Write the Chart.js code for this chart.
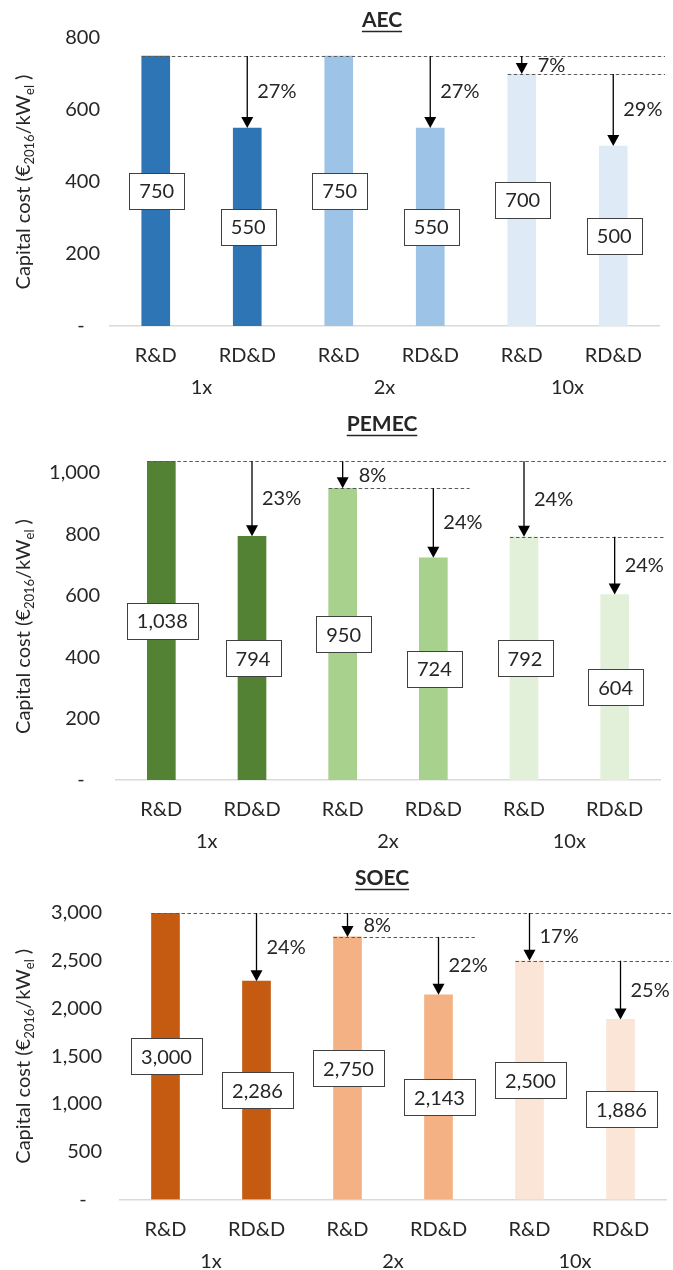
<!DOCTYPE html>
<html>
<head>
<meta charset="utf-8">
<script src="https://cdn.jsdelivr.net/npm/chart.js@4.4.1/dist/chart.umd.min.js"></script>
<style>
  html, body { margin: 0; padding: 0; background: #fff; }
  #wrap { position: relative; width: 673px; height: 1270px; overflow: hidden; }
  canvas { position: absolute; left: 0; }
</style>
</head>
<body>
<div id="wrap">
  <canvas id="aec" width="673" height="400" style="top:0px"></canvas>
  <canvas id="pemec" width="673" height="460" style="top:400px"></canvas>
  <canvas id="soec" width="673" height="410" style="top:860px"></canvas>
</div>
<script>
// ---- data ----
const stages = ["R&D", "RD&D", "R&D", "RD&D", "R&D", "RD&D"];
const scaleUps = ["1x", "2x", "10x"];

const aecCost = [750, 550, 750, 550, 700, 500];
const aecFrom = [null, 750, null, 750, 750, 700];   // arrow starts at this cost
const aecCut = [null, "27%", null, "27%", "7%", "29%"];
const aecRefValue = [750, 700];                     // dashed reference lines
const aecRefStart = [0, 4];
const aecRefEnd = [null, null];

const pemecCost = [1038, 794, 950, 724, 792, 604];
const pemecFrom = [null, 1038, 1038, 950, 1038, 792];
const pemecCut = [null, "23%", "8%", "24%", "24%", "24%"];
const pemecRefValue = [1038, 950, 792];
const pemecRefStart = [0, 2, 4];
const pemecRefEnd = [null, 3, null];

const soecCost = [3000, 2286, 2750, 2143, 2500, 1886];
const soecFrom = [null, 3000, 3000, 2750, 3000, 2500];
const soecCut = [null, "24%", "8%", "22%", "17%", "25%"];
const soecRefValue = [3000, 2750, 2500];
const soecRefStart = [0, 2, 4];
const soecRefEnd = [null, 3, null];

// ---- look ----
const INK = "#262626";
const FONT = "Lato";

function fmt(v) { return v.toLocaleString("en-US"); }

// rotated y title with subscripts
function drawAxisTitle(ctx, cx, cy) {
  const parts = [["Capital cost (€", 20, 0], ["2016", 13, 4], ["/kW", 20, 0], ["el", 13, 4], [" )", 20, 0]];
  ctx.save();
  ctx.translate(cx, cy);
  ctx.rotate(-Math.PI / 2);
  ctx.fillStyle = INK;
  ctx.textAlign = "left";
  ctx.textBaseline = "alphabetic";
  let total = 0;
  parts.forEach((p) => { ctx.font = p[1] + "px " + FONT; total += ctx.measureText(p[0]).width; });
  let x = -total / 2;
  parts.forEach((p) => {
    ctx.font = p[1] + "px " + FONT;
    ctx.fillText(p[0], x, 7 + p[2]);
    x += ctx.measureText(p[0]).width;
  });
  ctx.restore();
}

function drawNotes(chart, cfg) {
  const { ctx, chartArea: a } = chart;
  const xs = chart.scales.x, ys = chart.scales.y;
  const meta = chart.getDatasetMeta(0);
  const slot = (a.right - a.left) / cfg.values.length;

  // dashed reference lines
  ctx.save();
  ctx.setLineDash([3.5, 2.5]);
  ctx.strokeStyle = "#595959";
  ctx.lineWidth = 1.2;
  cfg.refValue.forEach((v, k) => {
    const bar = meta.data[cfg.refStart[k]];
    const x0 = bar.x - bar.width / 2;
    const x1 = cfg.refEnd[k] == null ? a.right + 6 : xs.getPixelForValue(cfg.refEnd[k]) + slot * 0.4;
    const yy = Math.round(ys.getPixelForValue(v)) + 0.5;
    ctx.beginPath(); ctx.moveTo(x0, yy); ctx.lineTo(x1, yy); ctx.stroke();
  });
  ctx.restore();

  // arrows + reduction labels
  ctx.save();
  ctx.strokeStyle = "#000"; ctx.fillStyle = "#000"; ctx.lineWidth = 1.3;
  ctx.font = "20px " + FONT;
  ctx.textAlign = "left"; ctx.textBaseline = "middle";
  cfg.values.forEach((v, i) => {
    if (cfg.from[i] == null) return;
    const bx = meta.data[i].x;
    const y0 = ys.getPixelForValue(cfg.from[i]);
    const y1 = ys.getPixelForValue(v);
    const short = y1 - y0 < 30;
    ctx.beginPath(); ctx.moveTo(bx, y0); ctx.lineTo(bx, y1 - 10); ctx.stroke();
    ctx.beginPath(); ctx.moveTo(bx - 6, y1 - 11); ctx.lineTo(bx + 6, y1 - 11); ctx.lineTo(bx, y1); ctx.closePath(); ctx.fill();
    ctx.fillStyle = INK;
    ctx.fillText(cfg.cut[i], bx + (short ? 16 : 10), (y0 + y1) / 2 + (short ? 1 : 0));
    ctx.fillStyle = "#000";
  });
  ctx.restore();

  // boxed value labels at half bar height
  ctx.save();
  ctx.font = "20px " + FONT;
  ctx.textAlign = "center"; ctx.textBaseline = "middle";
  cfg.values.forEach((v, i) => {
    const txt = fmt(v);
    const w = Math.round(ctx.measureText(txt).width + 20), h = 36;
    const cx = meta.data[i].x + 1, cy = ys.getPixelForValue(v / 2);
    const l = Math.round(cx - w / 2) + 0.5, t = Math.round(cy - h / 2) + 0.5;
    ctx.fillStyle = "#fff"; ctx.fillRect(l, t, w, h);
    ctx.strokeStyle = "#404040"; ctx.lineWidth = 1; ctx.strokeRect(l, t, w, h);
    ctx.fillStyle = INK; ctx.fillText(txt, cx, cy + 1);
  });
  ctx.restore();

  // underlined panel title
  ctx.save();
  ctx.font = "bold 21px " + FONT;
  ctx.fillStyle = INK; ctx.textAlign = "center"; ctx.textBaseline = "middle";
  ctx.fillText(cfg.title, 382, cfg.titleY);
  const tw = ctx.measureText(cfg.title).width;
  ctx.strokeStyle = INK; ctx.lineWidth = 1.5;
  ctx.beginPath(); ctx.moveTo(382 - tw / 2, cfg.titleY + 11.5); ctx.lineTo(382 + tw / 2, cfg.titleY + 11.5); ctx.stroke();
  ctx.restore();

  const top = ys.ticks[ys.ticks.length - 1].value;
  drawAxisTitle(ctx, 23, ys.getPixelForValue(top / 2));
}

function buildChart(id, cfg) {
  return new Chart(document.getElementById(id), {
    type: "bar",
    data: {
      labels: stages,
      datasets: [{ data: cfg.values, backgroundColor: cfg.colors, borderWidth: 0, barThickness: 28 }],
    },
    options: {
      responsive: false,
      animation: false,
      layout: { padding: { top: cfg.padTop, right: cfg.padRight, left: 0, bottom: 0 } },
      plugins: { legend: { display: false }, tooltip: { enabled: false }, title: { display: false } },
      scales: {
        y: {
          min: 0, max: cfg.max,
          grid: { display: false, drawTicks: false }, border: { display: false },
          afterBuildTicks: (s) => { s.ticks = s.ticks.filter((t) => t.value % cfg.step === 0); },
          afterFit: (s) => { s.width = cfg.axisWidth; },
          ticks: {
            stepSize: cfg.step, padding: cfg.tickPad, color: INK, font: { family: FONT, size: 20 },
            callback: (v) => (v === 0 ? "-\u00a0\u00a0\u00a0" : fmt(v)),
          },
        },
        x: {
          type: "category", position: "bottom", weight: 0,
          grid: { display: false, drawTicks: false },
          border: { display: true, color: "#d9d9d9", width: 1.5 },
          afterFit: (s) => { s.height = 46; },
          ticks: { padding: 18, color: INK, font: { family: FONT, size: 20 }, maxRotation: 0, autoSkip: false },
        },
        x2: {
          type: "category", position: "bottom", weight: 1, labels: scaleUps,
          grid: { display: false, drawTicks: false }, border: { display: false },
          afterFit: (s) => { s.height = s.chart.height - cfg.plotBottom - 46; },
          ticks: { padding: 4, color: INK, font: { family: FONT, size: 20 }, maxRotation: 0, autoSkip: false },
        },
      },
    },
    plugins: [{ id: "notes", afterDraw: (chart) => drawNotes(chart, cfg) }],
  });
}

buildChart("aec", {
  title: "AEC", titleY: 20,
  values: aecCost, from: aecFrom, cut: aecCut,
  refValue: aecRefValue, refStart: aecRefStart, refEnd: aecRefEnd,
  colors: ["#2e75b6", "#2e75b6", "#9dc3e6", "#9dc3e6", "#deebf7", "#deebf7"],
  max: 800, step: 200, axisWidth: 110, tickPad: 10, padTop: 38, padRight: 14, plotBottom: 326,
});

buildChart("pemec", {
  title: "PEMEC", titleY: 24,
  values: pemecCost, from: pemecFrom, cut: pemecCut,
  refValue: pemecRefValue, refStart: pemecRefStart, refEnd: pemecRefEnd,
  colors: ["#548235", "#548235", "#a9d18e", "#a9d18e", "#e2f0d9", "#e2f0d9"],
  max: 1100, step: 200, axisWidth: 116, tickPad: 16, padTop: 42.3, padRight: 13, plotBottom: 380,
});

buildChart("soec", {
  title: "SOEC", titleY: 18,
  values: soecCost, from: soecFrom, cut: soecCut,
  refValue: soecRefValue, refStart: soecRefStart, refEnd: soecRefEnd,
  colors: ["#c55a11", "#c55a11", "#f4b183", "#f4b183", "#fbe5d6", "#fbe5d6"],
  max: 3000, step: 500, axisWidth: 120, tickPad: 18, padTop: 53, padRight: 7, plotBottom: 339.5,
});
</script>
</body>
</html>
